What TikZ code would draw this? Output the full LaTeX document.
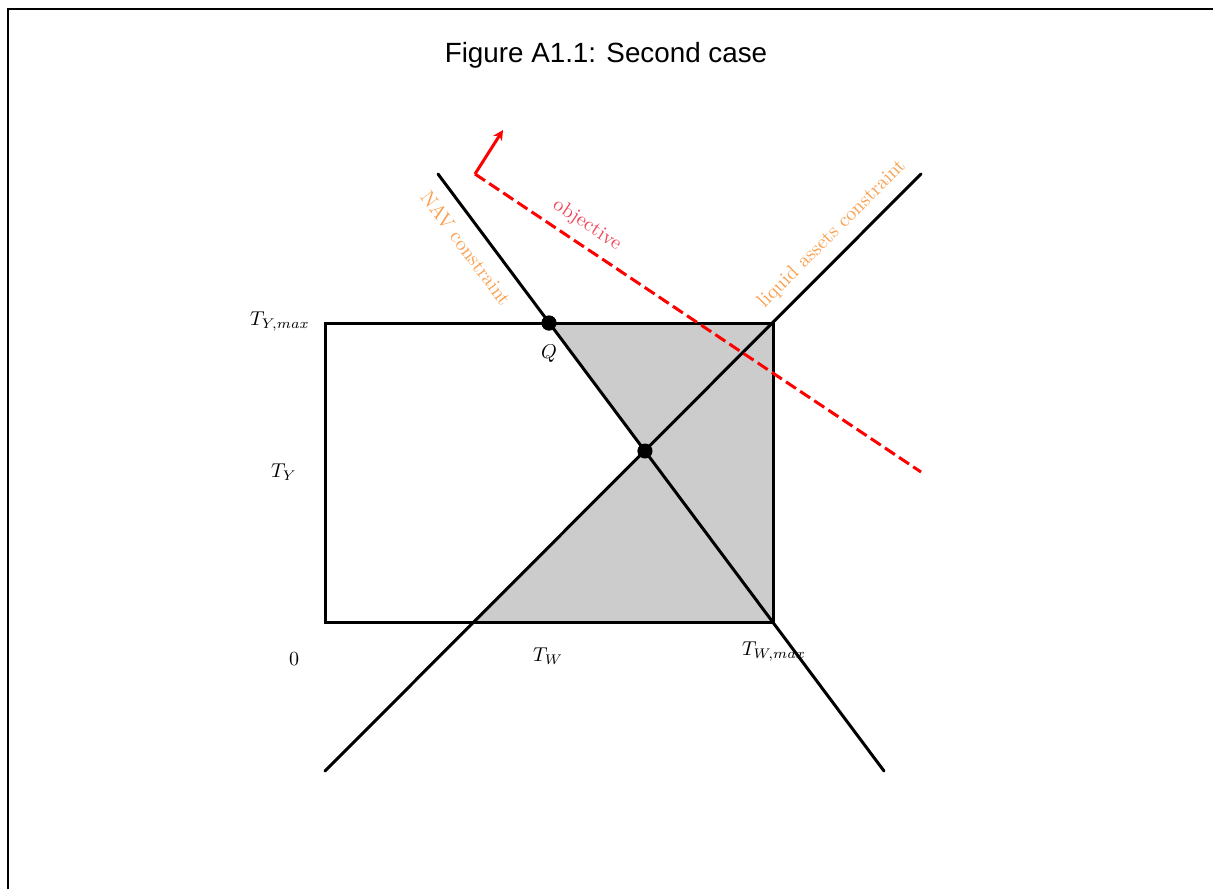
\documentclass[tikz,border=0pt]{standalone}
\usepackage{fontspec}
\newfontfamily\titlefont{Liberation Sans}
\usetikzlibrary{arrows.meta, positioning}
\definecolor{conorange}{RGB}{250,160,80}
\definecolor{objred}{RGB}{240,70,90}
\begin{document}
\begin{tikzpicture}[x=0.5pt, y=-0.5pt, cline/.style={line width=1.5pt, line cap=round}, dot/.style={circle, fill=black, inner sep=0pt, minimum size=7.5pt}, conlab/.style={text=conorange, font=\normalsize}]
\useasboundingbox (0,0) rectangle (1213,889);
\draw[line width=1pt] (8,889) -- (8,9) -- (1213,9);
\node[font=\titlefont\fontsize{13.9}{16}\selectfont] (title) at (606,55) {Figure A1.1: Second case};
\coordinate (o) at (325,622);
\coordinate (wmax) at (773,622);
\coordinate (ymax) at (325,323);
\coordinate (corner) at (773,323);
\coordinate (navtop) at (438,174);
\coordinate (navbot) at (884,771);
\coordinate (liqbot) at (325,771);
\coordinate (liqtop) at (921,174);
\coordinate (liqw) at (473,622);
\coordinate (objstart) at (475,174);
\coordinate (objend) at (921,472);
\coordinate (objtip) at (503,130);
\node[dot] (Q) at (549,323) {};
\node[dot] (X) at (645,451) {};
\fill[gray!40] (Q.center) -- (corner) -- (wmax) -- (liqw) -- (X.center) -- cycle;
\draw[cline, line cap=butt] (ymax) -- (corner) -- (wmax) -- (o) -- cycle;
\draw[cline] (navtop) -- (navbot);
\draw[cline] (liqbot) -- (liqtop);
\node[dot] at (Q) {};
\node[dot] at (X) {};
\draw[red, line width=1.5pt, dash pattern=on 6pt off 2.5pt] (objstart) -- (objend);
\draw[red, line width=1.5pt, -{Stealth[length=5pt, width=5pt]}] (objstart) -- (objtip);
\node (Qlab) at (549,354) {$Q$};
\node (tymax) at (280,322) {$T_{Y,max}$};
\node (ty) at (284,472) {$T_Y$};
\node (zero) at (294,659) {$0$};
\node (tw) at (548,656) {$T_W$};
\node (twmax) at (774,652) {$T_{W,max}$};
\node[conlab, rotate=-53.3] (navlab) at (466,248) {NAV constraint};
\node[conlab, rotate=45] (liqlab) at (832,234) {liquid assets constraint};
\node[text=objred, rotate=-33.7] (objlab) at (587,225) {objective};
\end{tikzpicture}
\end{document}
